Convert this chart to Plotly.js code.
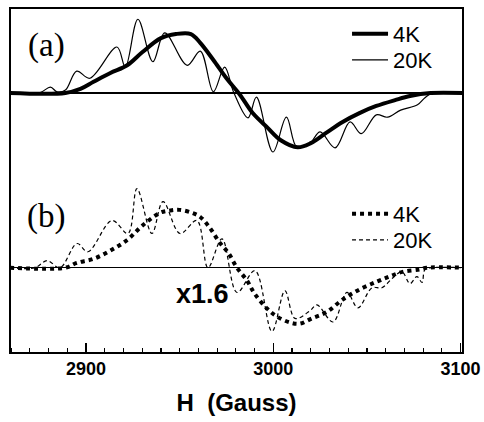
<!DOCTYPE html>
<html>
<head>
<meta charset="utf-8">
<script src="https://cdn.plot.ly/plotly-3.0.1.min.js"></script>
<style>
  html, body { margin: 0; padding: 0; background: #ffffff; }
  #chart { width: 484px; height: 422px; }
</style>
</head>
<body>
<div id="chart"></div>
<script>
// Magnetic field H (Gauss) and EPR signal (arbitrary units)
const H_4K_a  = [2859.4, 2889, 2897, 2904, 2913, 2922, 2930, 2940, 2948, 2956, 2961, 2968, 2975, 2982, 2989, 2997, 3004, 3013, 3020, 3028, 3037, 3046, 3055, 3065, 3073, 3084, 3101.3];
const S_4K_a  = [0, 0, 0.07, 0.19, 0.34, 0.47, 0.69, 0.93, 1.0, 1.0, 0.85, 0.56, 0.25, -0.02, -0.34, -0.59, -0.80, -0.92, -0.85, -0.68, -0.49, -0.34, -0.22, -0.12, -0.05, 0, 0];

const H_20K_a = [2859.4, 2875, 2881, 2884.5, 2889, 2895, 2902, 2916.5, 2921, 2927.7, 2935.7, 2942, 2954, 2961, 2968, 2974, 2979, 2986.5, 2991, 2999.8, 3007, 3012.6, 3019.6, 3025, 3033, 3041, 3047, 3055, 3061, 3068, 3077, 3081, 3085, 3101.3];
const S_20K_a = [0, 0, 0.10, 0.02, 0.05, 0.37, 0.25, 0.78, 0.44, 1.25, 0.53, 1.02, 0.47, 0.71, 0.02, 0.44, 0, -0.42, -0.07, -1.0, -0.41, -0.92, -0.85, -0.66, -0.93, -0.49, -0.69, -0.37, -0.41, -0.29, -0.20, -0.08, 0, 0];

const H_4K_b  = [2859.4, 2889, 2895, 2904, 2913, 2922, 2930, 2939.5, 2945, 2950, 2956.6, 2961, 2966, 2971.5, 2976, 2980.6, 2986, 2990, 2996.6, 3002, 3009, 3014, 3020.6, 3028.6, 3037, 3046, 3055, 3062, 3069, 3078, 3082, 3101.3];
const S_4K_b  = [0, 0, 0.08, 0.15, 0.29, 0.47, 0.71, 0.93, 0.97, 0.98, 0.93, 0.86, 0.68, 0.42, 0.25, 0, -0.22, -0.44, -0.69, -0.83, -0.93, -0.95, -0.86, -0.75, -0.54, -0.37, -0.24, -0.15, -0.07, -0.03, 0, 0];

const H_20K_b = [2859.4, 2872.7, 2879.2, 2886.1, 2895.2, 2901, 2913.9, 2922.4, 2927.2, 2935.2, 2941.1, 2950.2, 2959.2, 2965.1, 2972.6, 2980.6, 2990.2, 2999.3, 3006.2, 3011.6, 3019.6, 3023.3, 3031.9, 3039.3, 3045.2, 3052.7, 3058, 3063.9, 3068.7, 3073, 3076.7, 3079.4, 3081, 3084.7, 3101.3];
const S_20K_b = [0, 0, 0.12, 0, 0.41, 0.27, 0.80, 0.58, 1.34, 0.58, 1.12, 0.58, 0.80, 0, 0.49, -0.42, -0.05, -1.08, -0.39, -0.86, -0.73, -0.63, -0.92, -0.42, -0.68, -0.34, -0.34, -0.17, -0.07, -0.27, -0.15, -0.25, -0.03, 0, 0];

const seriesNames = ['4K', '20K'];
const panelLabels = ['(a)', '(b)'];
const scaleLabel = 'x1.6';
const majorTicks = [2900, 3000, 3100];
const midTicks = [2950, 3050];
const xTitle = 'H\u00a0\u00a0(Gauss)';

const legendFont = {family: 'Liberation Sans, Arial, sans-serif', size: 22, color: '#000'};
function leg(y) {
  return {x: 0.744, y: y, xanchor: 'left', yanchor: 'middle', bgcolor: 'rgba(0,0,0,0)',
          borderwidth: 0, font: legendFont, itemwidth: 36, tracegroupgap: 0};
}

const traces = [
  {x: H_4K_a, y: S_4K_a, xaxis: 'x', yaxis: 'y', mode: 'lines', name: seriesNames[0],
   line: {color: '#000', width: 4, shape: 'spline', smoothing: 1}, legend: 'legend'},
  {x: H_20K_a, y: S_20K_a, xaxis: 'x', yaxis: 'y', mode: 'lines', name: seriesNames[1],
   line: {color: '#000', width: 1.2, shape: 'spline', smoothing: 1}, legend: 'legend2'},
  {x: H_4K_b, y: S_4K_b, xaxis: 'x', yaxis: 'y2', mode: 'lines', name: seriesNames[0],
   line: {color: '#000', width: 4, dash: '4px,4px', shape: 'spline', smoothing: 1}, legend: 'legend3'},
  {x: H_20K_b, y: S_20K_b, xaxis: 'x', yaxis: 'y2', mode: 'lines', name: seriesNames[1],
   line: {color: '#000', width: 1.2, dash: '4px,3px', shape: 'spline', smoothing: 1}, legend: 'legend4'}
];

const layout = {
  width: 484, height: 422,
  margin: {l: 10, r: 21, t: 8, b: 69},
  paper_bgcolor: '#fff', plot_bgcolor: '#fff',
  showlegend: true,
  legend: leg(0.9246),
  legend2: leg(0.8493),
  legend3: leg(0.4029),
  legend4: leg(0.3275),
  xaxis: {
    range: [2859.4, 3101.3], anchor: 'y2', showgrid: false, zeroline: false,
    tickvals: majorTicks, ticktext: majorTicks.map(String),
    ticks: 'inside', ticklen: 10, tickwidth: 1.5, tickcolor: '#000',
    ticklabelstandoff: 3,
    minor: {dtick: 10, tick0: 2900, ticks: 'inside', ticklen: 5, tickwidth: 1.2, tickcolor: '#000', showgrid: false},
    tickfont: {family: 'Liberation Sans, Arial, sans-serif', size: 18, weight: 'bold', color: '#000'},
    title: {text: xTitle, font: {family: 'Liberation Sans, Arial, sans-serif', size: 24, weight: 'bold', color: '#000'}, standoff: 16},
    showline: false
  },
  xaxis2: {
    range: [2859.4, 3101.3], overlaying: 'x', anchor: 'y2', showgrid: false, zeroline: false,
    tickvals: midTicks, showticklabels: false,
    ticks: 'inside', ticklen: 8, tickwidth: 1.3, tickcolor: '#000', showline: false
  },
  yaxis: {
    domain: [0.5, 1], range: [-1.483, 1.441], visible: true, showgrid: false,
    showticklabels: false, ticks: '', showline: false,
    zeroline: true, zerolinecolor: '#000', zerolinewidth: 1.5
  },
  yaxis2: {
    domain: [0, 0.5], range: [-1.446, 1.478], visible: true, showgrid: false,
    showticklabels: false, ticks: '', showline: false,
    zeroline: true, zerolinecolor: '#000', zerolinewidth: 1.5
  },
  shapes: [
    {type: 'rect', xref: 'paper', yref: 'paper', x0: 0, x1: 1, y0: 0, y1: 1,
     line: {color: '#000', width: 2}, fillcolor: 'rgba(0,0,0,0)', layer: 'above'}
  ],
  annotations: [
    {xref: 'paper', yref: 'paper', x: 0.0795, y: 0.89, text: panelLabels[0], showarrow: false,
     xanchor: 'center', yanchor: 'middle', font: {family: 'Liberation Serif, Times New Roman, serif', size: 33, color: '#000'}},
    {xref: 'paper', yref: 'paper', x: 0.0795, y: 0.397, text: panelLabels[1], showarrow: false,
     xanchor: 'center', yanchor: 'middle', font: {family: 'Liberation Serif, Times New Roman, serif', size: 33, color: '#000'}},
    {xref: 'paper', yref: 'paper', x: 0.424, y: 0.171, text: scaleLabel, showarrow: false,
     xanchor: 'center', yanchor: 'middle', font: {family: 'Liberation Sans, Arial, sans-serif', size: 27, weight: 'bold', color: '#000'}}
  ]
};

Plotly.newPlot('chart', traces, layout, {displayModeBar: false, staticPlot: true});
</script>
</body>
</html>
